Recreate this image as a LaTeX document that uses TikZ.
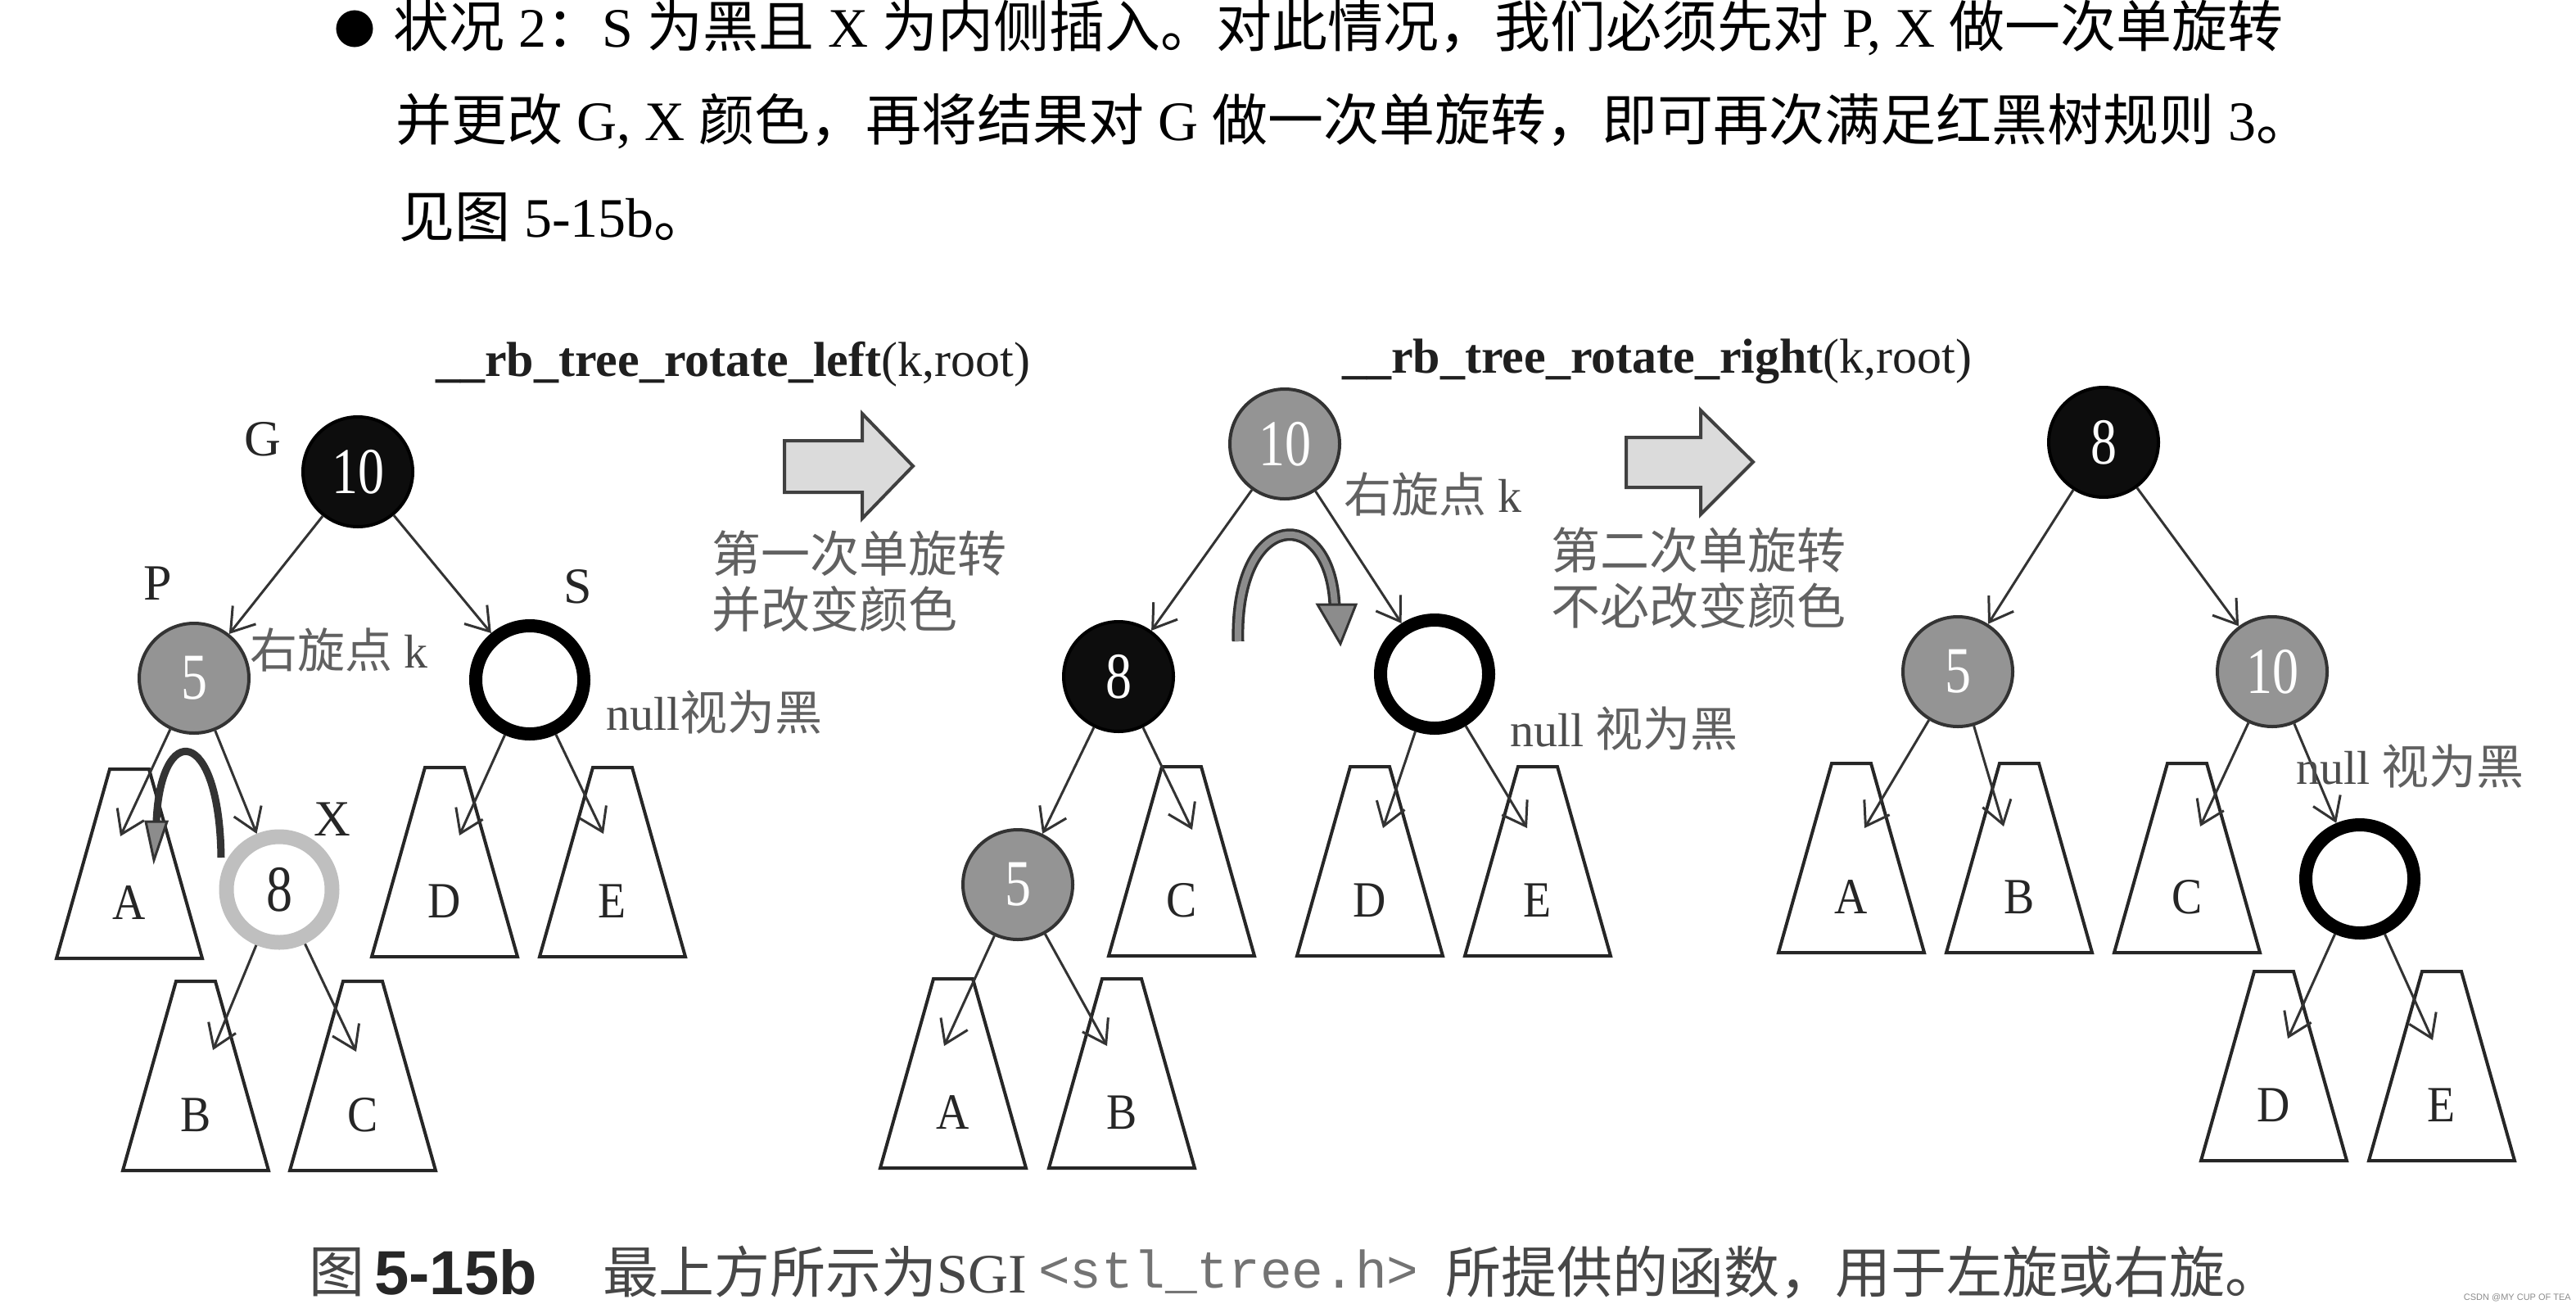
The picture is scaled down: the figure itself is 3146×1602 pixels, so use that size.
\documentclass[tikz,border=0pt]{standalone}
\usepackage{fontspec}
\usepackage{graphicx}
\setmainfont{Liberation Serif}
\setsansfont{Liberation Sans}
\setmonofont{Liberation Mono}
\newfontfamily\zhfont{Noto Sans CJK SC}
\usetikzlibrary{arrows.meta}
\newcommand\narrow[1]{\scalebox{0.8}[1]{#1}}
\newcommand\subtree[4]{%
  \draw[trap] (#2-24,#3) -- (#2+24,#3) -- (#2+89,#3+231) -- (#2-89,#3+231) -- cycle;
  \node[leaflab] (#1) at (#2,#3+163) {\scalebox{0.9}[1]{#4}};}
\begin{document}
\begin{tikzpicture}[x=1bp,y=-1bp,
  trap/.style={draw=black!85, line width=4bp, line join=miter},
  leaflab/.style={inner sep=0, font=\fontsize{62bp}{70bp}\selectfont, text=black!85},
  tlab/.style={inner sep=0, font=\fontsize{62bp}{70bp}\selectfont, text=black!85},
  numfont/.style={font=\fontsize{80bp}{80bp}\selectfont},
  rbgray/.style={circle, draw=black!80, line width=4bp, fill=black!42, minimum size=134bp, inner sep=0, text=white, numfont},
  rbblack/.style={circle, draw=black, line width=4bp, fill=black!95, minimum size=134bp, inner sep=0, text=white, numfont},
  rbnull/.style={circle, draw=black, line width=16bp, minimum size=132bp, inner sep=0},
  rbring/.style={circle, draw=black!25, line width=18bp, minimum size=129bp, inner sep=0, text=black!85, numfont},
  edge/.style={draw=black!80, line width=3bp, -{Straight Barb[length=27bp, width=36bp]}},
  rotarc/.style={draw=black!80, line width=9bp},
  rotband/.style={draw=black!80, line width=15bp, postaction={draw=black!45, line width=8bp}},
  rothead/.style={fill=black!45, draw=black!80, line width=3bp, line join=miter},
  bigarrow/.style={fill=black!14, draw=black!75, line width=4bp, line join=miter},
  graylab/.style={inner sep=0, anchor=west, text=black!62, font=\fontsize{60bp}{68bp}\selectfont\zhfont, align=left},
  notelab/.style={inner sep=0, anchor=west, text=black!70, font=\fontsize{58bp}{64bp}\selectfont},
  funclab/.style={inner sep=0, anchor=west, text=black!88, font=\fontsize{60bp}{66bp}\selectfont},
  topline/.style={inner sep=0, anchor=west, text=black, font=\fontsize{68bp}{80bp}\selectfont},
  captext/.style={inner sep=0, anchor=west, text=black!72, font=\fontsize{68bp}{76bp}\selectfont}
]
\fill[white] (0,0) rectangle (3146,1602);
\useasboundingbox (0,0) rectangle (3146,1602);

% ---------- top text ----------
\node[topline, font=\fontsize{50bp}{60bp}\selectfont] (bul) at (408,36) {{\zhfont ●}};
\node[topline] (L1) at (480,34) {{\zhfont 状况} 2{\zhfont ：}S {\zhfont 为黑且} X {\zhfont 为内侧插入。对此情况，我们必须先对} P, X {\zhfont 做一次单旋转}};
\node[topline] (L2) at (483,148) {{\zhfont 并更改} G, X {\zhfont 颜色，再将结果对} G {\zhfont 做一次单旋转，即可再次满足红黑树规则} 3{\zhfont 。}};
\node[topline] (L3) at (487,265) {{\zhfont 见图} 5-15b{\zhfont 。}};

% ---------- function names ----------
\node[funclab] (f1) at (532,445) {\textbf{\_\_rb\_tree\_rotate\_left}(k,root)};
\node[funclab] (f2) at (1639,441) {\textbf{\_\_rb\_tree\_rotate\_right}(k,root)};

% ---------- block arrows ----------
\draw[bigarrow] (958,538) -- (1053,538) -- (1053,505) -- (1115,569) -- (1053,633) -- (1053,601) -- (958,601) -- cycle;
\draw[bigarrow] (1986,534) -- (2077,534) -- (2077,501) -- (2141,564) -- (2077,628) -- (2077,595) -- (1986,595) -- cycle;
\node[graylab] (s1) at (869,710) {第一次单旋转\\并改变颜色};
\node[graylab] (s2) at (1894,706) {第二次单旋转\\不必改变颜色};

% ---------- tree 1 ----------
\subtree{aA}{158}{939}{A}
\subtree{aD}{543}{937}{D}
\subtree{aE}{748}{937}{E}
\subtree{aB}{239}{1198}{B}
\subtree{aC}{443}{1198}{C}
\coordinate (t1A) at (147,1021);
\coordinate (t1D) at (561,1020);
\coordinate (t1E) at (737,1018);
\coordinate (t1B) at (260,1282);
\coordinate (t1C) at (435,1284);
\node[rbblack] (G) at (437,576) {\narrow{10}};
\node[rbgray] (P) at (237,828) {\narrow{5}};
\node[rbnull] (S) at (647,830) {};
\node[rbring] (X) at (341,1086) {\narrow{8}};
\draw[edge] (G) -- (P);
\draw[edge] (G) -- (S);
\draw[edge] (P) -- (t1A);
\draw[edge] (P) -- (X);
\draw[edge] (S) -- (t1D);
\draw[edge] (S) -- (t1E);
\draw[edge] (X) -- (t1B);
\draw[edge] (X) -- (t1C);
\draw[rotarc] (270,1047) .. controls (268,885) and (196,880) .. (191,1003);
\draw[rothead] (178,1003) -- (204,1003) -- (188,1050) -- cycle;
\node[tlab] (lG) at (321,536) {G};
\node[tlab] (lP) at (193,712) {P};
\node[tlab] (lS) at (706,716) {S};
\node[tlab] (lX) at (406,1000) {X};
\node[notelab] (k1) at (305,793) {{\zhfont\color{black!62}右旋点} k};
\node[notelab] (n1) at (740,870) {null{\zhfont\color{black!62}视为黑}};

% ---------- tree 2 ----------
\subtree{bC}{1443}{936}{C}
\subtree{bD}{1673}{936}{D}
\subtree{bE}{1878}{936}{E}
\subtree{bA}{1164}{1195}{A}
\subtree{bB}{1370}{1195}{B}
\coordinate (t2C) at (1456,1013);
\coordinate (t2D) at (1689,1011);
\coordinate (t2E) at (1865,1011);
\coordinate (t2A) at (1153,1277);
\coordinate (t2B) at (1352,1277);
\node[rbgray] (R2) at (1569,542) {\narrow{10}};
\node[rbblack] (N8) at (1366,826) {\narrow{8}};
\node[rbnull] (Z2) at (1752,823) {};
\node[rbgray] (N5) at (1243,1080) {\narrow{5}};
\draw[edge] (R2) -- (N8);
\draw[edge] (R2) -- (Z2);
\draw[edge] (N8) -- (N5);
\draw[edge] (N8) -- (t2C);
\draw[edge] (Z2) -- (t2D);
\draw[edge] (Z2) -- (t2E);
\draw[edge] (N5) -- (t2A);
\draw[edge] (N5) -- (t2B);
\draw[rotband] (1512,783) .. controls (1508,620) and (1625,615) .. (1630,740);
\draw[rothead] (1609,738) -- (1656,738) -- (1637,786) -- cycle;
\node[notelab] (k2) at (1641,603) {{\zhfont\color{black!62}右旋点} k};
\node[notelab] (n2) at (1844,890) {null {\zhfont\color{black!62}视为黑}};

% ---------- tree 3 ----------
\subtree{cA}{2261}{932}{A}
\subtree{cB}{2466}{932}{B}
\subtree{cC}{2671}{932}{C}
\subtree{cD}{2777}{1186}{D}
\subtree{cE}{2982}{1186}{E}
\coordinate (t3A) at (2277,1011);
\coordinate (t3B) at (2447,1009);
\coordinate (t3C) at (2687,1009);
\coordinate (t3D) at (2794,1268);
\coordinate (t3E) at (2971,1270);
\node[rbblack] (R3) at (2569,540) {\narrow{8}};
\node[rbgray] (M5) at (2391,820) {\narrow{5}};
\node[rbgray] (M10) at (2775,820) {\narrow{10}};
\node[rbnull] (Z3) at (2882,1073) {};
\draw[edge] (R3) -- (M5);
\draw[edge] (R3) -- (M10);
\draw[edge] (M5) -- (t3A);
\draw[edge] (M5) -- (t3B);
\draw[edge] (M10) -- (t3C);
\draw[edge] (M10) -- (Z3);
\draw[edge] (Z3) -- (t3D);
\draw[edge] (Z3) -- (t3E);
\node[notelab] (n3) at (2804,936) {null {\zhfont\color{black!62}视为黑}};

% ---------- caption ----------
\node[captext] (c1) at (377,1553) {{\zhfont 图}};
\node[captext, text=black!85, font=\sffamily\bfseries\fontsize{76bp}{80bp}\selectfont] (c2) at (457,1553) {5-15b};
\node[captext] (c3) at (736,1553) {{\zhfont 最上方所示为}SGI};
\node[captext, text=black!55, font=\ttfamily\fontsize{64.5bp}{70bp}\selectfont] (c4) at (1268,1553) {<stl\_tree.h>};
\node[captext] (c5) at (1765,1553) {{\zhfont 所提供的函数，用于左旋或右旋。}};
\node[inner sep=0, anchor=east, text=black!45, font=\sffamily\fontsize{11bp}{12bp}\selectfont] (wm) at (3140,1584) {CSDN @MY CUP OF TEA};
\end{tikzpicture}
\end{document}
